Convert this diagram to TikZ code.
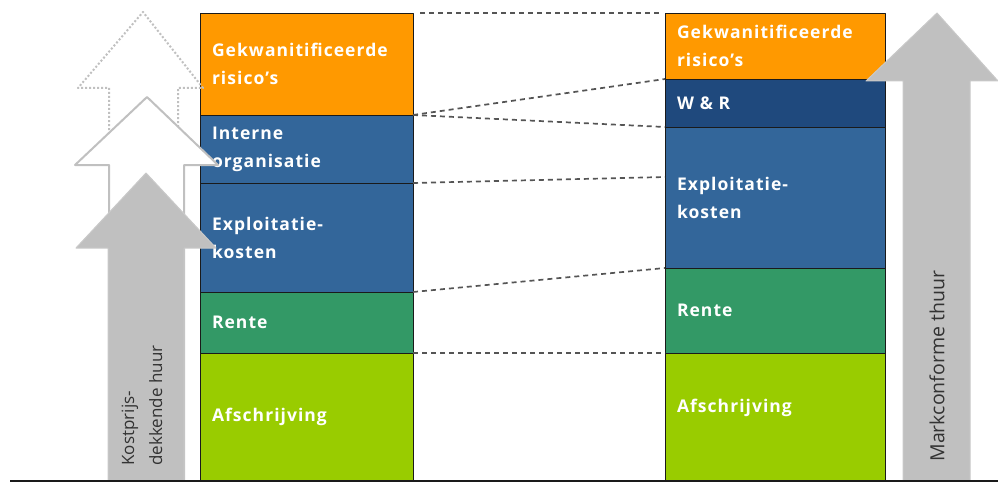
\documentclass[tikz,border=0pt]{standalone}
\usepackage{fontspec}
\setmainfont{Open Sans}
\newfontfamily\blockfamily[LetterSpace=6]{Open Sans}
\definecolor{ink}{HTML}{333333}
\definecolor{rule}{HTML}{1A1A1A}
\definecolor{linkgray}{HTML}{555555}
\definecolor{arrowgray}{HTML}{C0C0C0}
\definecolor{figorange}{HTML}{FF9900}
\definecolor{figblue}{HTML}{33669A}
\definecolor{fignavy}{HTML}{1F497D}
\definecolor{figgreen}{HTML}{339966}
\definecolor{figlime}{HTML}{99CC00}
\newcommand{\blockfont}{\blockfamily\fontsize{17.5}{28}\selectfont\bfseries}
\newcommand{\arrowfont}{\fontsize{17}{28}\selectfont}
\tikzset{
  every picture/.style = {line join=round},
  block/.style         = {draw=rule, line width=0.9pt, anchor=north west, outer sep=0pt,
                          inner xsep=12pt, inner ysep=0pt, align=left, text=white, font=\blockfont},
  lcol/.style          = {block, text width=189pt},
  rcol/.style          = {block, text width=196pt},
  link/.style          = {linkgray, line width=1.7pt, dash pattern=on 5pt off 4pt},
  solidarrow/.style    = {fill=arrowgray, draw=arrowgray!85!white, line width=1pt},
  openarrow/.style     = {fill=white, draw=arrowgray, line width=2pt},
  ghostarrow/.style    = {draw=arrowgray, line width=2pt, dotted},
  arrowtext/.style     = {rotate=90, anchor=west, align=left, text=ink, font=\arrowfont},
}

\begin{document}
\begin{tikzpicture}[x=1pt, y=1pt]
  \useasboundingbox (0,0) rectangle (998,483);
  \def\Top{470}\def\Base{2}   % top of both columns, ground line

  % left column: cost price
  \node[lcol, fill=figorange, minimum height=102pt] (lRisk)   at (200,\Top) {Gekwanitificeerde\\risico’s};
  \node[lcol, fill=figblue,   minimum height=68pt]  (lIntern) at (lRisk.south west)   {Interne\\organisatie};
  \node[lcol, fill=figblue,   minimum height=109pt] (lExpl)   at (lIntern.south west) {Exploitatie-\\kosten};
  \node[lcol, fill=figgreen,  minimum height=61pt]  (lRente)  at (lExpl.south west)   {Rente};
  \node[lcol, fill=figlime,   minimum height=128pt] (lAfschr) at (lRente.south west)  {Afschrijving};

  % right column: market rent
  \node[rcol, fill=figorange, minimum height=66pt]  (rRisk)   at (665,\Top) {Gekwanitificeerde\\risico’s};
  \node[rcol, fill=fignavy,   minimum height=48pt]  (rWR)     at (rRisk.south west)  {W \& R};
  \node[rcol, fill=figblue,   minimum height=141pt] (rExpl)   at (rWR.south west)    {Exploitatie-\\kosten};
  \node[rcol, fill=figgreen,  minimum height=85pt]  (rRente)  at (rExpl.south west)  {Rente};
  \node[rcol, fill=figlime,   minimum height=128pt, text depth=22pt] (rAfschr) at (rRente.south west) {Afschrijving};

  % dashed links between the layers
  \coordinate (rMid) at ([yshift=-50pt]rExpl.north west);
  \draw[link, shorten <=7pt, shorten >=5pt] (lRisk.north east) -- (rRisk.north west);
  \draw[link] (lRisk.south east)   -- (rRisk.south west);
  \draw[link] (lRisk.south east)   -- (rWR.south west);
  \draw[link] (lIntern.south east) -- (rMid);
  \draw[link] (lExpl.south east)   -- (rExpl.south west);
  \draw[link] (lRente.south east)  -- (rRente.south west);

  % three stacked arrows on the left, the faint ones behind
  \draw[ghostarrow] (109,353) -- (109,395) -- (78,395) -- (143,471) -- (203,395) -- (178,395) -- (178,353);
  \draw[openarrow]  (109,\Base) -- (109,318) -- (75,318) -- (147,386) -- (218,318) -- (184,318) -- (184,\Base);
  \filldraw[solidarrow] (108,\Base) -- (108,235) -- (76,235) -- (146,310) -- (216,235) -- (184,235) -- (184,\Base) -- cycle;
  \node[arrowtext] (costText) at (142,14) {Kostprijs-\\dekkende huur};

  % market arrow on the right
  \filldraw[solidarrow] (903,\Base) -- (903,402) -- (866,402) -- (937,470) -- (998,402) -- (970,402) -- (970,\Base) -- cycle;
  \node[arrowtext, font=\fontsize{19.5}{28}\selectfont] (marketText) at (937,18) {Markconforme thuur};

  % ground line
  \draw[rule, line width=2pt] (10,\Base) -- (998,\Base);
\end{tikzpicture}
\end{document}
